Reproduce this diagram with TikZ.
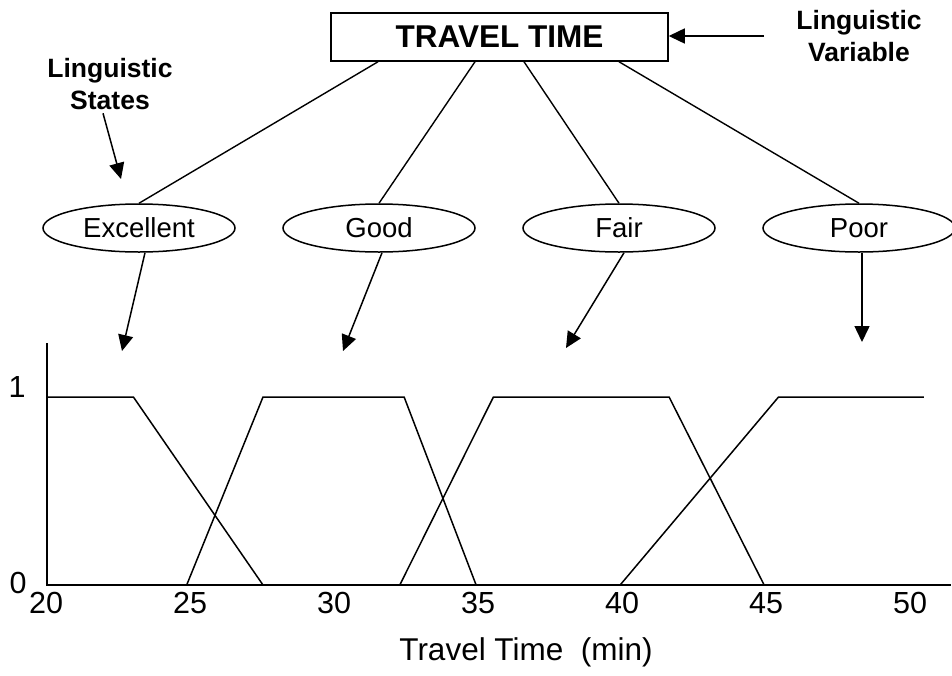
\documentclass[tikz,border=0pt]{standalone}
\usepackage{fontspec}
\setmainfont{Liberation Sans}
\usetikzlibrary{arrows.meta,shapes.geometric}

\tikzset{
  etat/.style={draw, ellipse, line width=1.5pt, minimum width=192pt, minimum height=48pt, inner sep=0pt, font=\fontsize{27.5}{32}\selectfont},
  fleche/.style={line width=1.5pt, -{Triangle[length=16pt,width=15pt]}},
  lien/.style={line width=1.4pt},
  titre/.style={font=\bfseries\fontsize{26.5}{32}\selectfont, align=center},
  courbe/.style={line width=1.5pt},
  grad/.style={font=\fontsize{30.5}{36}\selectfont}
}

\begin{document}
\begin{tikzpicture}[x=1pt,y=-1pt]
\useasboundingbox (0,0) rectangle (952,675);

% Variable linguistique
\node[draw, line width=1.5pt, minimum width=337pt, minimum height=48pt, font=\bfseries\fontsize{31.5}{36}\selectfont] (var) at (499.5,37) {TRAVEL TIME};
\node[titre] (nomvar) at (859,36) {Linguistic\\Variable};
\coordinate (queuevar) at (764,36);
\draw[fleche] (queuevar) -- (queuevar -| var.east);

% Etats
\node[etat] (exc) at (139,228) {Excellent};
\node[etat] (good) at (379,228) {Good};
\node[etat] (fair) at (619,228) {Fair};
\node[etat] (poor) at (859,228) {Poor};

% Liens variable -> etats
\draw[lien] ([xshift=-121.5pt]var.south) -- (exc.north);
\draw[lien] ([xshift=-24.5pt]var.south) -- (good.north);
\draw[lien] ([xshift=24.5pt]var.south) -- (fair.north);
\draw[lien] ([xshift=119.5pt]var.south) -- (poor.north);

% Etats linguistiques
\node[titre] (nometat) at (110,84) {Linguistic\\States};
\coordinate (pointe) at (121,179);
\draw[fleche] ([xshift=-7pt]nometat.south) -- (pointe);

% Fleches vers les courbes
\coordinate (pexc) at (122,351);
\coordinate (pgood) at (343,351);
\coordinate (pfair) at (566,348);
\coordinate (ppoor) at (862,342);
\draw[fleche] ([xshift=6pt]exc.south) -- (pexc);
\draw[fleche] ([xshift=3pt]good.south) -- (pgood);
\draw[fleche] ([xshift=5pt]fair.south) -- (pfair);
\draw[fleche] ([xshift=3pt]poor.south) -- (ppoor);

% Axes et fonctions d'appartenance
\begin{scope}[shift={(47,585)}, x=28.8pt, y=188pt]
\draw[line width=1.5pt] (0,1.287) -- (0,0) -- (31.4,0);
\draw[courbe] (0,1) -- (3,1) -- (7.5,0);
\draw[courbe] (4.85,0) -- (7.5,1) -- (12.4,1) -- (14.9,0);
\draw[courbe] (12.25,0) -- (15.5,1) -- (21.6,1) -- (24.9,0);
\draw[courbe] (19.9,0) -- (25.4,1) -- (30.45,1);
% Graduations
\foreach \t in {20,25,...,50}
  \node[grad] (g\t) at (\t-20-0.03,-0.096) {\t};
\end{scope}

\node[grad] (un) at (17,387) {1};
\node[grad] (zero) at (18,583) {0};
\node[font=\fontsize{31.5}{36}\selectfont] (titrex) at (526,652) {Travel Time\ \ (min)};

\end{tikzpicture}
\end{document}
